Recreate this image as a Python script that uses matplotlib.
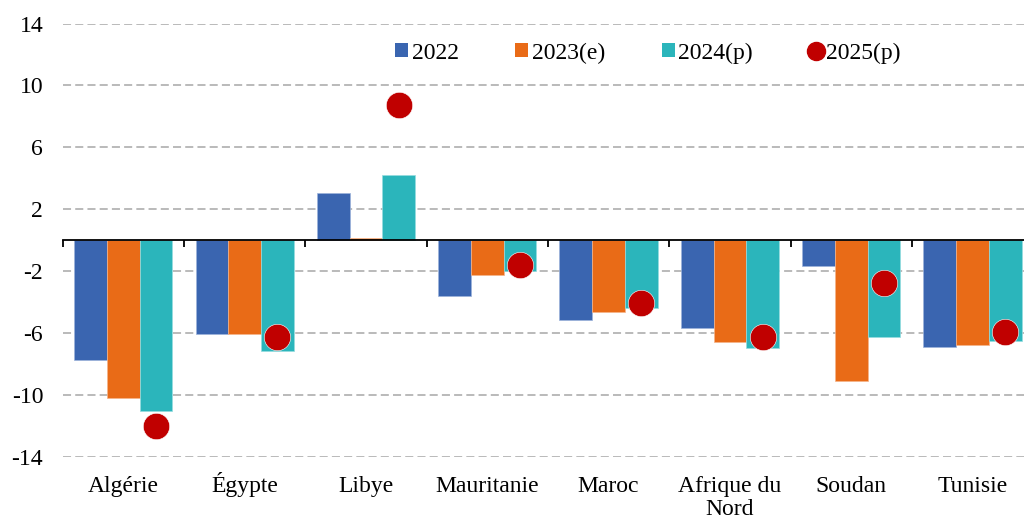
import matplotlib
matplotlib.use("Agg")
import matplotlib.pyplot as plt
from matplotlib.patches import Patch
from matplotlib.lines import Line2D
import numpy as np

plt.rcParams['font.family'] = ['Liberation Serif', 'DejaVu Serif']
plt.rcParams['lines.scale_dashes'] = False

categories = ["Algérie", "Égypte", "Libye", "Mauritanie", "Maroc",
              "Afrique du\nNord", "Soudan", "Tunisie"]
v2022 = [-7.75, -6.05, 3.05, -3.6, -5.2, -5.7, -1.7, -6.9]
v2023 = [-10.2, -6.05, 0.1, -2.25, -4.65, -6.6, -9.1, -6.8]
v2024 = [-11.05, -7.2, 4.2, -2.0, -4.4, -7.0, -6.25, -6.5]
v2025 = [-12.0, -6.3, 8.75, -1.6, -4.1, -6.25, -2.75, -5.95]
yticks = [14, 10, 6, 2, -2, -6, -10, -14]

c2022 = "#3A65B0"
c2023 = "#E96B17"
c2024 = "#2BB5BB"
c2025 = "#C00000"

fig = plt.figure(figsize=(10.24, 5.2), dpi=100)
ax = fig.add_axes([0.0612, 0.1221, 0.9478, 0.8327])

x = np.arange(len(categories))
w = 0.27
ax.bar(x - w, v2022, w, color=c2022, edgecolor="#9DB3DA", linewidth=0.5, zorder=3)
ax.bar(x, v2023, w, color=c2023, edgecolor="#F5B48A", linewidth=0.5, zorder=3)
ax.bar(x + w, v2024, w, color=c2024, edgecolor="#96DCDF", linewidth=0.5, zorder=3)
ax.scatter(x + w, v2025, s=360, color=c2025, edgecolors="white", linewidths=0.4, zorder=4)

ax.set_xlim(-0.5, len(categories) - 0.5)
ax.set_ylim(-14, 14)

for yv in yticks:
    ax.axhline(yv, color="#B4B4B4", linewidth=1.3, linestyle=(0, (5.8, 3.0)), zorder=1)

for s in ["left", "right", "top"]:
    ax.spines[s].set_visible(False)
ax.spines["bottom"].set_position(("data", 0))
ax.spines["bottom"].set_linewidth(1.3)
ax.spines["bottom"].set_zorder(5)

ax.set_yticks(yticks)
ax.set_yticklabels([str(t) for t in yticks], fontsize=17)
ax.tick_params(axis="y", length=0, pad=14)

ax.set_xticks(np.arange(len(categories) + 1) - 0.5)
ax.set_xticklabels([])
ax.tick_params(axis="x", length=5, width=1.3, direction="out")

# category names below the plot area, one baseline per text line
line_step = 0.052
for i, lab in enumerate(categories):
    for k, part in enumerate(lab.split("\n")):
        ax.text(i, -0.082 - k * line_step, part, transform=ax.get_xaxis_transform(),
                ha="center", va="baseline", fontsize=17)

handles = [
    Patch(facecolor=c2022, label="2022"),
    Patch(facecolor=c2023, label="2023(e)"),
    Patch(facecolor=c2024, label="2024(p)"),
    Line2D([], [], marker="o", linestyle="none", markersize=13,
           markerfacecolor=c2025, markeredgecolor=c2025, label="2025(p)"),
]
ax.legend(handles=handles, loc="center", bbox_to_anchor=(0.603, 0.932),
          ncol=4, frameon=False, fontsize=17, handlelength=0.55,
          handleheight=0.55, handletextpad=0.15, columnspacing=2.4)

fig.savefig("out.png", dpi=100)
